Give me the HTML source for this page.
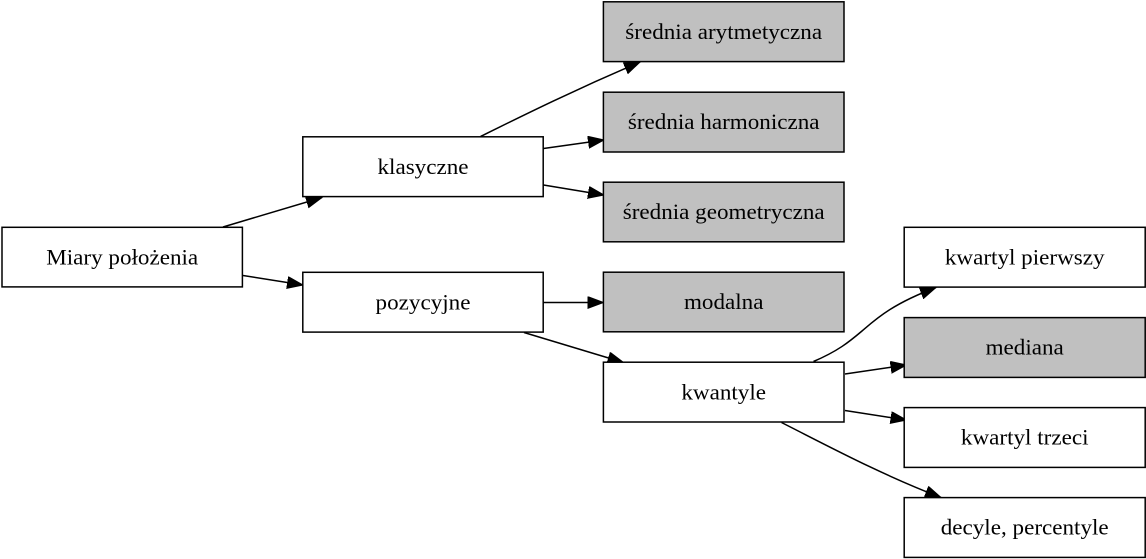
<!DOCTYPE html>
<html>
<head>
<meta charset="utf-8">
<style>
  html, body { margin: 0; padding: 0; background: #ffffff; }
  svg { display: block; }
  text { font-family: "Liberation Serif", "Times New Roman", serif; font-size: 22px; fill: #000; }
</style>
</head>
<body>
<svg width="1146" height="559" viewBox="0 0 1146 559" xmlns="http://www.w3.org/2000/svg">
  <defs>
    <marker id="ah" markerWidth="18" markerHeight="14" refX="16" refY="6" orient="auto" markerUnits="userSpaceOnUse">
      <path d="M0,0 L16,6 L0,12 z" fill="#000" stroke="#000" stroke-width="1"/>
    </marker>
  </defs>

  <g fill="none" stroke="#000" stroke-width="1.5">
    <path d="M223,227 L322,197.5" marker-end="url(#ah)"/>
    <path d="M243,275.5 L303,285" marker-end="url(#ah)"/>
    <path d="M480.5,136.5 C520,117 570,92 640,62" marker-end="url(#ah)"/>
    <path d="M543.5,148.5 L604,140" marker-end="url(#ah)"/>
    <path d="M543.5,185 L604,195" marker-end="url(#ah)"/>
    <path d="M543.5,302.5 L603.5,302.5" marker-end="url(#ah)"/>
    <path d="M524,332.5 L623.5,362.5" marker-end="url(#ah)"/>
    <path d="M813.5,361.5 C838,351 849,342 862,331 C876,319 892,304 936,287.5" marker-end="url(#ah)"/>
    <path d="M845,374 L906.5,365" marker-end="url(#ah)"/>
    <path d="M845,410.5 L906.5,420" marker-end="url(#ah)"/>
    <path d="M781.5,422.5 C830,447 880,474 941,497.5" marker-end="url(#ah)"/>
  </g>

  <g stroke="#000" stroke-width="1.5">
    <rect x="2" y="227.3" width="240.4" height="59.6" fill="#ffffff"/>
    <rect x="302.8" y="136.8" width="240.4" height="59.8" fill="#ffffff"/>
    <rect x="302.8" y="272.3" width="240.4" height="59.8" fill="#ffffff"/>
    <rect x="603.4" y="1.8" width="240.6" height="59.8" fill="#c0c0c0"/>
    <rect x="603.4" y="92.2" width="240.6" height="59.8" fill="#c0c0c0"/>
    <rect x="603.4" y="182.2" width="240.6" height="59.6" fill="#c0c0c0"/>
    <rect x="603.4" y="272.2" width="240.6" height="59.6" fill="#c0c0c0"/>
    <rect x="603.4" y="362.2" width="240.6" height="59.8" fill="#ffffff"/>
    <rect x="904.2" y="227.3" width="241" height="59.8" fill="#ffffff"/>
    <rect x="904.2" y="317.6" width="241" height="59.8" fill="#c0c0c0"/>
    <rect x="904.2" y="407.6" width="241" height="59.8" fill="#ffffff"/>
    <rect x="904.2" y="497.6" width="241" height="59.8" fill="#ffffff"/>
  </g>

  <g text-anchor="middle">
    <text transform="translate(122.2,264.5) scale(1.05,1)">Miary położenia</text>
    <text transform="translate(423,174) scale(1.05,1)">klasyczne</text>
    <text transform="translate(423,309.5) scale(1.05,1)">pozycyjne</text>
    <text transform="translate(723.7,39) scale(1.05,1)">średnia arytmetyczna</text>
    <text transform="translate(723.7,129) scale(1.05,1)">średnia harmoniczna</text>
    <text transform="translate(723.7,219) scale(1.05,1)">średnia geometryczna</text>
    <text transform="translate(723.7,309) scale(1.05,1)">modalna</text>
    <text transform="translate(723.7,399.5) scale(1.05,1)">kwantyle</text>
    <text transform="translate(1024.7,264.5) scale(1.05,1)">kwartyl pierwszy</text>
    <text transform="translate(1024.7,354.5) scale(1.05,1)">mediana</text>
    <text transform="translate(1024.7,444.5) scale(1.05,1)">kwartyl trzeci</text>
    <text transform="translate(1024.7,534.5) scale(1.05,1)">decyle, percentyle</text>
  </g>
</svg>
</body>
</html>
